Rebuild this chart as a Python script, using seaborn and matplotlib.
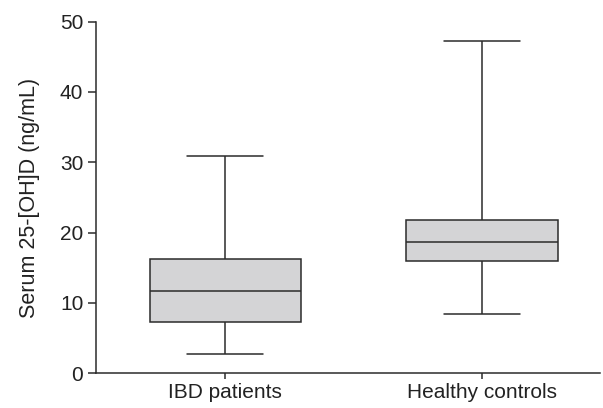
import numpy as np
import pandas as pd
import matplotlib
matplotlib.use("Agg")
import matplotlib.pyplot as plt
import seaborn as sns

# five-number summaries (min, Q1, median, Q3, max)
groups = ["IBD patients", "Healthy controls"]
ibd_vals = [2.7, 7.3, 11.75, 16.3, 30.9]
hc_vals = [8.4, 15.9, 18.7, 21.8, 47.2]

df = pd.DataFrame({
    "group": [groups[0]] * len(ibd_vals) + [groups[1]] * len(hc_vals),
    "value": ibd_vals + hc_vals,
})

sns.set_style("ticks")
plt.rcParams["font.family"] = ["Liberation Sans", "DejaVu Sans"]

fig = plt.figure(figsize=(6.03, 4.08), dpi=100)
ax = fig.add_axes([0.160, 0.085, 0.835, 0.862])

edge = "#2b2b2b"
lw = 1.1
sns.boxplot(data=df, x="group", y="value", order=groups, whis=(0, 100),
            width=0.59, color="#d4d4d6", linecolor=edge, linewidth=lw,
            saturation=1, fliersize=0, ax=ax)

ax.set_ylim(0, 50)
ax.set_xlim(-0.502, 1.46)
ax.set_yticks([0, 10, 20, 30, 40, 50])
ax.set_xlabel("")
ax.set_ylabel("Serum 25-[OH]D (ng/mL)", fontsize=15.5, color="#222222", labelpad=14)
ax.tick_params(axis="y", length=5.5, width=lw, color=edge, labelsize=15,
               labelcolor="#222222", pad=4)
ax.tick_params(axis="x", length=4, width=lw, color=edge, labelsize=15,
               labelcolor="#222222", pad=3)
for s in ["top", "right"]:
    ax.spines[s].set_visible(False)
for s in ["left", "bottom"]:
    ax.spines[s].set_linewidth(lw)
    ax.spines[s].set_color(edge)

fig.savefig("out.png", dpi=100)
